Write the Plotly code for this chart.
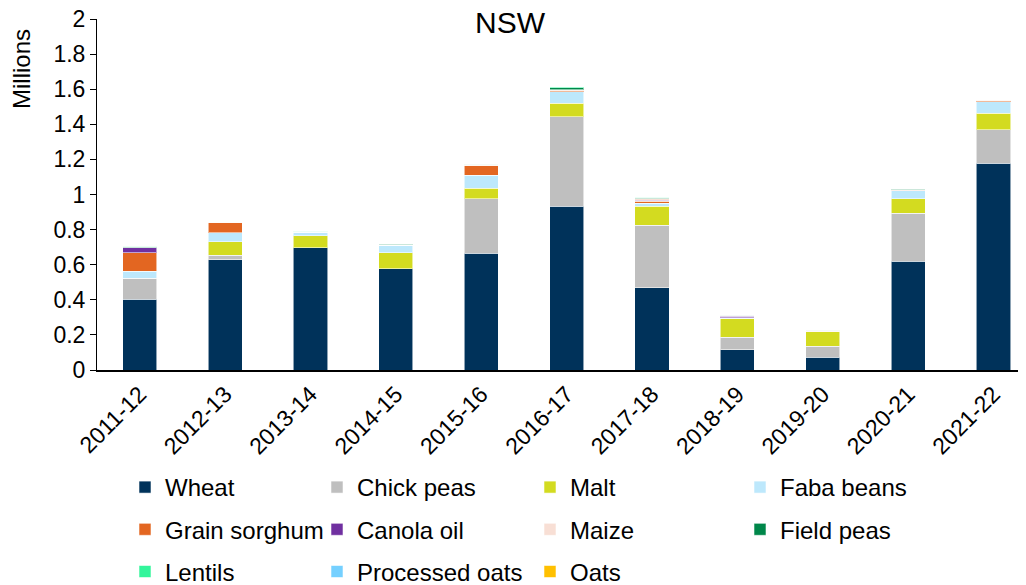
import plotly.graph_objects as go

years = ["2011-12", "2012-13", "2013-14", "2014-15", "2015-16", "2016-17",
         "2017-18", "2018-19", "2019-20", "2020-21", "2021-22"]

# values in millions
wheat = [0.403, 0.629, 0.697, 0.577, 0.665, 0.933, 0.469, 0.116, 0.072, 0.619, 1.178]
chick_peas = [0.119, 0.024, 0.0, 0.0, 0.311, 0.510, 0.357, 0.070, 0.063, 0.274, 0.192]
malt = [0.0, 0.078, 0.068, 0.091, 0.061, 0.078, 0.108, 0.106, 0.083, 0.083, 0.093]
faba_beans = [0.042, 0.051, 0.019, 0.042, 0.074, 0.065, 0.016, 0.003, 0.0, 0.046, 0.066]
grain_sorghum = [0.104, 0.057, 0.0, 0.0, 0.053, 0.004, 0.012, 0.004, 0.003, 0.0, 0.004]
canola_oil = [0.029, 0.0, 0.0, 0.0, 0.0, 0.0, 0.006, 0.006, 0.0, 0.0, 0.0]
maize = [0.0, 0.002, 0.004, 0.0, 0.003, 0.008, 0.008, 0.004, 0.0, 0.005, 0.003]
field_peas = [0.002, 0.002, 0.0, 0.006, 0.005, 0.010, 0.003, 0.004, 0.005, 0.004, 0.005]
lentils = [0.005, 0.003, 0.004, 0.002, 0.0, 0.005, 0.005, 0.0, 0.0, 0.002, 0.0]
processed_oats = [0.0] * 11
oats = [0.0] * 11

series = [
    ("Wheat", wheat, "#00325A"),
    ("Chick peas", chick_peas, "#BFBFBF"),
    ("Malt", malt, "#D3DB20"),
    ("Faba beans", faba_beans, "#BDE8FC"),
    ("Grain sorghum", grain_sorghum, "#E36621"),
    ("Canola oil", canola_oil, "#7030A0"),
    ("Maize", maize, "#F8DFD5"),
    ("Field peas", field_peas, "#00874A"),
    ("Lentils", lentils, "#33F59B"),
    ("Processed oats", processed_oats, "#75D0FF"),
    ("Oats", oats, "#FFC000"),
]

legend_ids = ["legend", "legend2", "legend3", "legend4"]

fig = go.Figure()
for i, (name, vals, col) in enumerate(series):
    fig.add_trace(go.Bar(
        x=years, y=vals, name=name, legendgroup=name,
        legend=legend_ids[i % 4],
        marker=dict(color=col, line=dict(color="rgba(255,255,255,0.55)", width=1)),
    ))

font = "Liberation Sans, Arial, sans-serif"
# figure coordinates (page body adds an 8px offset)
plot_l, plot_t, plot_b, plot_r = 89, 11, 362, 1018
H, W = 585, 1026


def py(y):
    return (plot_b - y) / (plot_b - plot_t)


def px_(x):
    return (x - plot_l) / (plot_r - plot_l)


leg = dict(orientation="v", yanchor="top", xanchor="left", y=py(457),
           font=dict(family=font, size=24, color="#000"), bgcolor="rgba(0,0,0,0)",
           tracegroupgap=8, traceorder="grouped")
col_x = [117, 309, 522, 732]

fig.update_layout(
    width=W, height=H,
    margin=dict(l=plot_l, r=W - plot_r, t=plot_t, b=H - plot_b, autoexpand=False),
    paper_bgcolor="white", plot_bgcolor="white",
    barmode="stack", bargap=0.6,
    font=dict(family=font, size=22, color="#000"),
    title=dict(text="NSW", x=px_(502), xref="paper", xanchor="center",
               y=1 - 14 / H, yanchor="middle", yref="container",
               font=dict(family=font, size=30, color="#000")),
    xaxis=dict(type="category", range=[-0.5, 10.38], showline=True, linecolor="#000",
               linewidth=1.5, ticks="", tickangle=-45, tickfont=dict(size=23),
               showgrid=False),
    yaxis=dict(range=[0, 2], dtick=0.2, showline=True, linecolor="#000", linewidth=1,
               ticks="outside", ticklen=6, tickcolor="#000", tickfont=dict(size=23),
               ticklabeloverflow="allow", showgrid=False, zeroline=False),
    legend=dict(leg, x=px_(col_x[0])),
    legend2=dict(leg, x=px_(col_x[1])),
    legend3=dict(leg, x=px_(col_x[2])),
    legend4=dict(leg, x=px_(col_x[3])),
    annotations=[dict(text="Millions", textangle=-90, xref="paper", yref="paper",
                      x=px_(14), y=py(61), xanchor="center", yanchor="middle",
                      showarrow=False, font=dict(family=font, size=24, color="#000"))],
)

fig.write_html("out.html")
